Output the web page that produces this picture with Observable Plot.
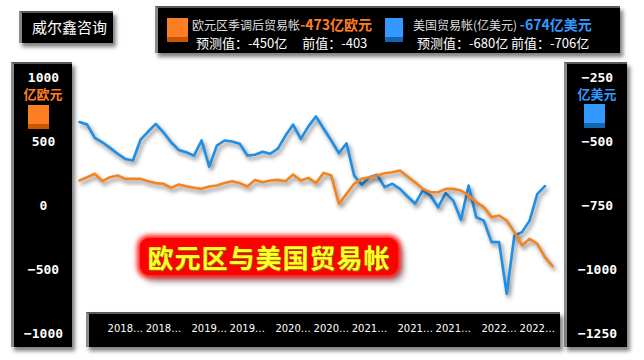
<!DOCTYPE html>
<html><head><meta charset="utf-8">
<script src="https://cdn.jsdelivr.net/npm/d3@7"></script>
<script src="https://cdn.jsdelivr.net/npm/@observablehq/plot@0.6"></script>
<style>
body{margin:0;background:#fff;}
#wrap{position:relative;width:644px;height:360px;overflow:hidden;font-family:"Noto Sans CJK SC",sans-serif;background:#fff;}
.panel{position:absolute;background:#000;box-shadow:3px 4px 4px rgba(0,0,0,0.5);border-left:3px solid #8a8a8a;border-top:2px solid #5a5a5a;box-sizing:border-box;}
.t{position:absolute;white-space:nowrap;line-height:14px;}
.sq{position:absolute;width:21px;height:24px;}
#chart{position:absolute;left:0;top:0;}
.ser{filter:drop-shadow(2px 3px 2px rgba(0,0,0,0.5));}
#title{position:absolute;left:140px;top:238px;width:258px;height:37px;background:#ff0000;border-radius:9px;box-shadow:0 0 5px 3px #ff1a1a,5px 6px 7px rgba(0,0,0,0.45);color:#ffff2a;font-weight:bold;font-size:26px;line-height:37px;text-align:center;letter-spacing:1px;text-shadow:1px 1px 0 #8c7a00;white-space:nowrap;}
</style></head>
<body>
<div id="wrap">
  <div class="panel" style="left:19px;top:11px;width:94px;height:32px"></div>
  <div class="t" style="left:32px;top:19px;color:#fff;font-size:15px;line-height:16px">威尔鑫咨询</div>

  <div class="panel" style="left:155px;top:6px;width:465px;height:47px"></div>
  <div class="sq" style="left:167px;top:18px;background:linear-gradient(#fb7e22 0 78%,#c95600 78%)"></div>
  <div class="t" style="left:192px;top:17px;color:#ddd;font-size:12px">欧元区季调后贸易帐<span style="color:#ff7f24;font-weight:bold;font-size:14px">-473亿欧元</span></div>
  <div class="t" style="left:196px;top:36px;color:#fff;font-size:13px">预测值：-450亿<span style="display:inline-block;width:15px"></span>前值：-403</div>
  <div class="sq" style="left:385px;top:18px;width:18px;background:linear-gradient(#3399ff 0 78%,#1465b0 78%)"></div>
  <div class="t" style="left:413px;top:17px;color:#ddd;font-size:12px">美国贸易帐(亿美元) <span style="color:#3399ff;font-weight:bold;font-size:14px">-674亿美元</span></div>
  <div class="t" style="left:417px;top:36px;color:#fff;font-size:13px">预测值：-680亿 前值：-706亿</div>

  <div class="panel" style="left:11px;top:62px;width:61px;height:285px"></div>
  <div class="panel" style="left:564px;top:62px;width:63px;height:285px"></div>
  <div class="panel" style="left:86px;top:312px;width:474px;height:35px"></div>

  <div class="t" style="left:23px;top:87px;width:40px;text-align:center;color:#ff7f24;font-weight:bold;font-size:13px">亿欧元</div>
  <div class="sq" style="left:28px;top:105px;background:linear-gradient(#fb7e22 0 78%,#c95600 78%)"></div>
  <div class="t" style="left:577px;top:87px;width:40px;text-align:center;color:#3399ff;font-weight:bold;font-size:13px">亿美元</div>
  <div class="sq" style="left:584px;top:104px;background:linear-gradient(#3399ff 0 78%,#1465b0 78%)"></div>

  <div id="chart"></div>
  <div id="title">欧元区与美国贸易帐</div>
</div>
<script>
// 欧元区季调后贸易帐 (亿欧元), monthly
const euroValues = [195, 221, 248, 190, 221, 234, 208, 208, 208, 190, 175, 170, 138, 164, 150, 138, 130, 148, 156, 175, 190, 175, 148, 200, 182, 195, 200, 190, 242, 195, 216, 175, 255, 234, 13, 91, 170, 208, 221, 234, 252, 260, 273, 227, 182, 130, 104, 104, 130, 130, 117, 78, 26, -13, -91, -78, -117, -208, -312, -260, -299, -403, -473];
// 美国贸易帐 (亿美元), monthly
const usValues = [-424, -434, -486, -503, -525, -548, -568, -574, -493, -461, -431, -464, -503, -533, -542, -555, -496, -598, -516, -496, -500, -509, -555, -552, -540, -548, -528, -477, -434, -490, -441, -402, -450, -496, -546, -507, -633, -668, -640, -630, -678, -665, -685, -715, -743, -691, -711, -757, -702, -731, -806, -672, -796, -809, -893, -893, -1095, -867, -854, -809, -706, -674];
const xTickIndex = [6, 11, 17, 22, 28, 33, 38, 44, 49, 55, 60];
const xTickLabels = ["2018…","2018…","2019…","2019…","2020…","2020…","2021…","2021…","2021…","2022…","2022…"];
const leftTicks = [1000, 500, 0, -500, -1000];
const rightTicks = [-250, -500, -750, -1000, -1250];

const toLeft = v => 2 * (v + 750);
const fromLeft = v => v / 2 - 750;
const fmt = v => String(Math.round(v)).replace("-", "−");
const euro = euroValues.map((v, i) => ({i, v}));
const us = usValues.map((v, i) => ({i, v: toLeft(v)}));

const chart = Plot.plot({
  width: 644, height: 360,
  marginLeft: 79, marginRight: 92, marginTop: 77, marginBottom: 27,
  style: {background: "transparent", overflow: "visible"},
  x: {domain: [0, 62]},
  y: {domain: [-1000, 1000]},
  marks: [
    Plot.axisY({ticks: leftTicks, anchor: "left", tickSize: 0, tickPadding: 36, textAnchor: "middle",
      fill: "#fff", fontSize: 13, fontWeight: "bold", fontFamily: "DejaVu Sans Mono", tickFormat: fmt, label: null}),
    Plot.axisY({ticks: rightTicks.map(toLeft), anchor: "right", tickSize: 0, tickPadding: 45, textAnchor: "middle",
      fill: "#fff", fontSize: 13, fontWeight: "bold", fontFamily: "DejaVu Sans Mono", tickFormat: d => fmt(fromLeft(d)), label: null}),
    Plot.axisX({ticks: xTickIndex, anchor: "bottom", tickSize: 0, tickPadding: 0, dy: -9,
      fill: "#fff", fontSize: 10, fontFamily: "DejaVu Sans", tickFormat: d => xTickLabels[xTickIndex.indexOf(d)], label: null}),
    Plot.line(us, {x: "i", y: "v", stroke: "#1e8fe6", strokeWidth: 2.6, className: "ser"}),
    Plot.line(euro, {x: "i", y: "v", stroke: "#f5841f", strokeWidth: 2.6, className: "ser"})
  ]
});
document.getElementById("chart").appendChild(chart);
</script>
</body></html>
